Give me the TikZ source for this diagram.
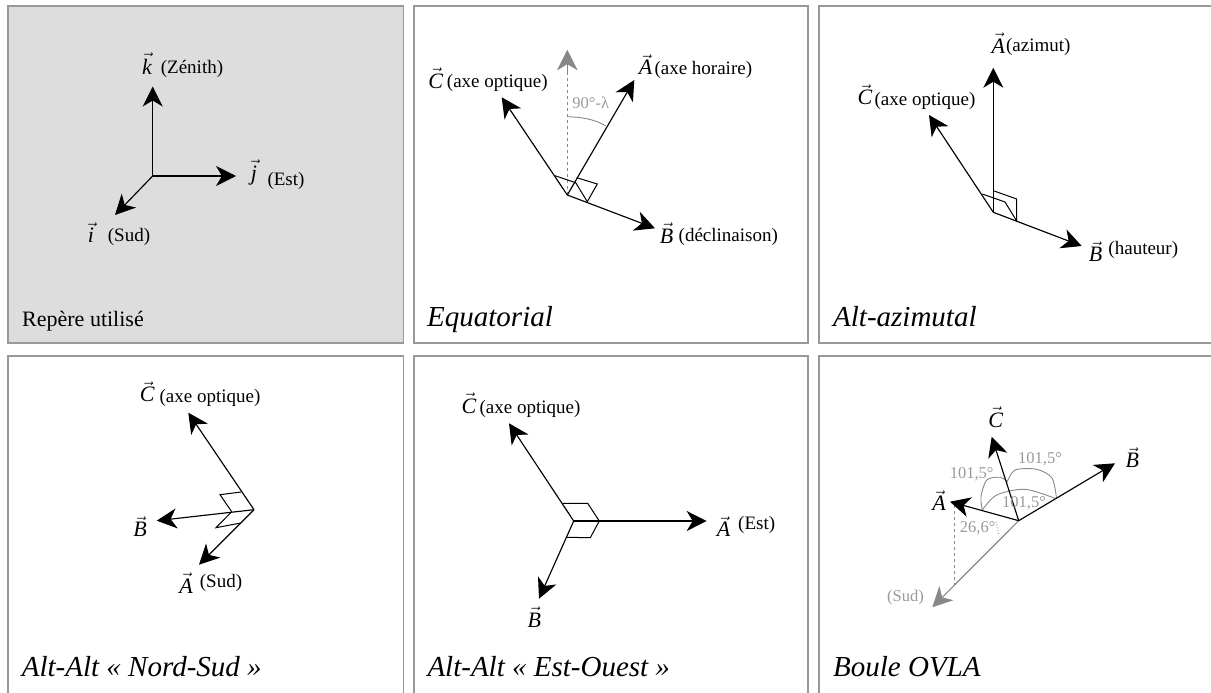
\documentclass[tikz,border=0pt]{standalone}
\usepackage{fontspec}
\setmainfont{Liberation Serif}
\usetikzlibrary{arrows.meta}
\newcommand\vl[1]{\ensuremath{\vec{\mbox{\itshape #1}}}}
\definecolor{panelc}{HTML}{999999}
\definecolor{panelfill}{HTML}{DDDDDD}
\definecolor{grayarrow}{HTML}{888888}
\definecolor{graytext}{HTML}{999999}
\tikzset{
  panel/.style={draw=panelc,line width=1.2pt},
  vecarrow/.style={draw=black,line width=1.15pt,-{Stealth[length=20pt,width=20pt,inset=6pt]}},
  grayvec/.style={draw=grayarrow,line width=1.15pt,-{Stealth[length=20pt,width=20pt,inset=6pt]}},
  square/.style={draw=black,line width=1pt},
  vlab/.style={inner sep=0pt,anchor=base,font=\fontsize{22}{24}\selectfont},
  note/.style={inner sep=0pt,anchor=center,text height=13pt,text depth=4pt,font=\fontsize{19}{21}\selectfont},
  angtext/.style={inner sep=0pt,anchor=center,text=graytext,font=\fontsize{16.5}{18}\selectfont},
  ang/.style={draw=grayarrow,line width=.9pt},
  title/.style={inner sep=0pt,anchor=base west,font=\fontsize{29}{31}\selectfont\itshape},
  plain title/.style={inner sep=0pt,anchor=base west,font=\fontsize{22}{24}\selectfont},
}
\begin{document}
\begin{tikzpicture}[x=1pt,y=-1pt]
\useasboundingbox (0,0) rectangle (1211,693);
\clip (0,0) rectangle (1211,693);
% panels
\draw[panel,fill=panelfill] (8,6) rectangle (403.5,343);
\draw[panel] (414,6) rectangle (808,343);
\draw[panel] (819,6) rectangle (1225,343);
\draw[panel] (8,356) rectangle (403.5,710);
\draw[panel] (414,356) rectangle (808,710);
\draw[panel] (819,356) rectangle (1225,710);

% Panel 1
\coordinate (o1) at (152.7,176);
\coordinate (k1) at (152.7,86.5);
\coordinate (j1) at (236,176);
\coordinate (i1) at (115,215);
\draw[vecarrow] (o1) -- (k1);
\draw[vecarrow] (o1) -- (j1);
\draw[vecarrow] (o1) -- (i1);
\node[vlab] (lk) at (147,74.3) {\vl{k}};
\node[note] (tk) at (192,69) {(Zénith)};
\node[vlab] (lj) at (254,180) {\vl{j}};
\node[note] (tj) at (286,181) {(Est)};
\node[vlab] (li) at (91,242.7) {\vl{i}};
\node[note] (ti) at (129,237) {(Sud)};
\node[plain title] (t1) at (22,326) {Repère utilisé};

% Panel 2
\coordinate (o2) at (567.3,195);
\coordinate (c2) at (501.7,97.3);
\coordinate (a2) at (634.3,80);
\coordinate (b2) at (655,228.3);
\coordinate (z2) at (567.3,50);
\coordinate (arcS2) at (567.3,116.7);
\coordinate (arcE2) at (605.7,126);
\draw[grayvec,dashed] (o2) -- (z2);
\draw[grayarrow,line width=1.15pt,-{Stealth[length=20pt,width=20pt,inset=6pt]}] (567.3,72) -- (z2);
\draw[ang] (arcS2) .. controls (580,117) and (595,119) .. (arcE2);
\draw[vecarrow] (o2) -- (c2);
\draw[vecarrow] (o2) -- (a2);
\draw[vecarrow] (o2) -- (b2);
\draw[square] (555,175.7) -- (575.7,182.7) -- (587.3,201.7);
\draw[square] (576.7,177.7) -- (597.3,184) -- (587.3,201.7);
\node[vlab] (lc2) at (435.7,88.3) {\vl{C}};
\node[note] (tc2) at (497.3,83) {(axe optique)};
\node[vlab] (la2) at (645.7,75) {\vl{A}};
\node[note] (ta2) at (703.3,70) {(axe horaire)};
\node[vlab] (lb2) at (666.7,243.3) {\vl{B}};
\node[note] (tb2) at (728.3,237.3) {(déclinaison)};
\node[angtext] (ang2) at (590.7,102.7) {90°-λ};
\node[title] (t2) at (427,326) {Equatorial};

% Panel 3
\coordinate (o3) at (993.3,212.3);
\coordinate (a3) at (993.3,67.7);
\coordinate (c3) at (929,115);
\coordinate (b3) at (1081.7,246);
\draw[vecarrow] (o3) -- (a3);
\draw[vecarrow] (o3) -- (c3);
\draw[vecarrow] (o3) -- (b3);
\draw[square] (982.3,194) -- (1005,202) -- (1016.7,221);
\draw[square] (993.3,190.7) -- (1016.7,199) -- (1016.7,221);
\node[vlab] (la3) at (998.3,53.3) {\vl{A}};
\node[note] (ta3) at (1038.3,46.7) {(azimut)};
\node[vlab] (lc3) at (865,105) {\vl{C}};
\node[note] (tc3) at (925,101) {(axe optique)};
\node[vlab] (lb3) at (1095.7,261.7) {\vl{B}};
\node[note] (tb3) at (1143.3,250) {(hauteur)};
\node[title] (t3) at (833,326) {Alt-azimutal};

% Panel 4
\coordinate (o4) at (254,509.7);
\coordinate (c4) at (188.3,412.7);
\coordinate (b4) at (156.7,520.7);
\coordinate (a4) at (199,564.7);
\draw[vecarrow] (o4) -- (c4);
\draw[vecarrow] (o4) -- (b4);
\draw[vecarrow] (o4) -- (a4);
\draw[square] (241,492) -- (220,494.7) -- (231.7,511.7);
\draw[square] (240.7,523) -- (216,527.7) -- (231.7,511.7);
\node[vlab] (lc4) at (147.3,401.7) {\vl{C}};
\node[note] (tc4) at (210,397.7) {(axe optique)};
\node[vlab] (lb4) at (140,536.7) {\vl{B}};
\node[vlab] (la4) at (186,593.3) {\vl{A}};
\node[note] (ta4) at (221,582.7) {(Sud)};
\node[title] (t4) at (21.7,676.7) {Alt-Alt « Nord-Sud »};

% Panel 5
\coordinate (o5) at (573.7,521);
\coordinate (a5) at (706.7,521);
\coordinate (c5) at (509,423.3);
\coordinate (b5) at (539,598.7);
\draw[vecarrow] (o5) -- (a5);
\draw[vecarrow] (o5) -- (c5);
\draw[vecarrow] (o5) -- (b5);
\draw[square] (562.3,503.3) -- (587.7,503.3) -- (599.3,521);
\draw[square] (566.7,537.3) -- (590.3,537.7) -- (599.3,521);
\node[vlab] (lc5) at (469,413.3) {\vl{C}};
\node[note] (tc5) at (530,409) {(axe optique)};
\node[vlab] (la5) at (723.7,536.7) {\vl{A}};
\node[note] (ta5) at (756.7,525) {(Est)};
\node[vlab] (lb5) at (534.3,627.3) {\vl{B}};
\node[title] (t5) at (427.3,676.7) {Alt-Alt « Est-Ouest »};

% Panel 6
\coordinate (o6) at (1018.7,520.7);
\coordinate (c6) at (991.7,436.7);
\coordinate (b6) at (1115,463.3);
\coordinate (a6) at (950,501.7);
\coordinate (s6) at (932.3,607.3);
\coordinate (d6a) at (954,505);
\coordinate (d6b) at (954,585);
\draw[grayvec] (o6) -- (s6);
\draw[draw=grayarrow,line width=1pt,dashed] (d6a) -- (d6b);
\draw[ang,dotted] (996,521.7) .. controls (997,527) and (998,532) .. (999.3,536);
\draw[ang] plot[smooth] coordinates {(982.3,510) (996.7,495) (1025,489.3) (1055,498.3)};
\draw[ang] plot[smooth] coordinates {(982.3,510) (981,496.7) (986.7,480) (1000,477.3) (1007.3,481.7)};
\draw[ang] plot[smooth] coordinates {(1007.3,481.7) (1015,470) (1036.7,469.3) (1052,478) (1056.5,498.3)};
\draw[vecarrow] (o6) -- (c6);
\draw[vecarrow] (o6) -- (b6);
\draw[vecarrow] (o6) -- (a6);
\node[vlab] (lc6) at (995.7,427.3) {\vl{C}};
\node[vlab] (lb6) at (1132.3,467.7) {\vl{B}};
\node[vlab] (la6) at (939,510.7) {\vl{A}};
\node[angtext] (a61) at (1040,459.3) {101,5°};
\node[angtext] (a62) at (971.7,474.3) {101,5°};
\node[angtext] (a63) at (1024,503.3) {101,5°};
\node[angtext] (a64) at (977.7,528.3) {26,6°};
\node[angtext] (ts6) at (905.5,598) {(Sud)};
\node[title] (t6) at (833,676.7) {Boule OVLA};
\end{tikzpicture}
\end{document}
